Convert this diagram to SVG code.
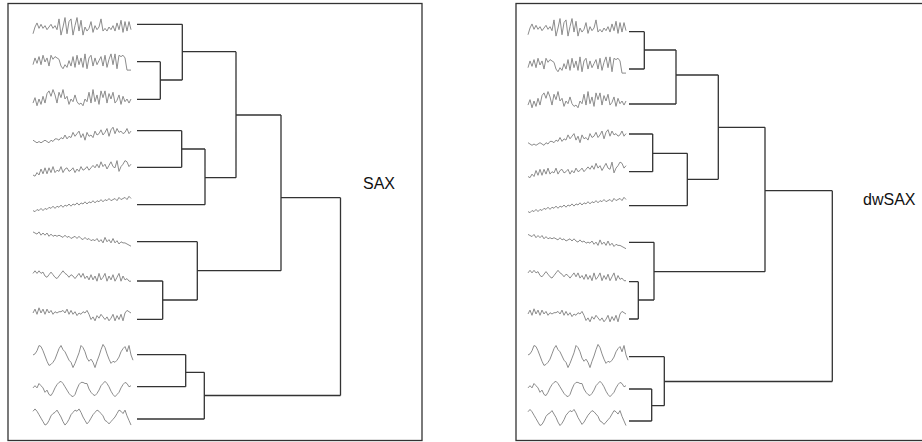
<svg xmlns="http://www.w3.org/2000/svg" xmlns:xlink="http://www.w3.org/1999/xlink" width="922" height="442" viewBox="0 0 922 442">
<style>
.frame{fill:#fff;stroke:#333;stroke-width:1.3}
.wave{fill:none;stroke:#8c8c8c;stroke-width:1;stroke-linejoin:round;vector-effect:non-scaling-stroke}
.link{fill:none;stroke:#333;stroke-width:1.3}
.lbl{font-family:"Liberation Sans",Arial,sans-serif;font-size:16px;fill:#111}
</style>
<defs>
<polyline id="w1" class="wave" points="0,5 2,0 4,-3 6,1 8,-2 10,1 12,-1 14,2 16,0 18,-2 20,1 22,-1 24,2 26,-6 28,6 30,0 32,-7 34,5 36,-4 38,-6 40,6 42,-1 44,-7 46,3 48,-5 50,6 52,0 54,3 56,1 58,-4 60,4 62,-1 64,2 66,0 68,-6 70,3 72,1 74,3 76,0 78,2 80,-1 82,3 84,-3 86,2 88,-5 90,4 92,-4 94,3 96,-4 98,2"/>
<polyline id="w2" class="wave" points="0,2 2,-3 4,1 6,-4 8,2 10,-5 12,0 14,-3 16,3 18,-5 20,-2 22,-4 24,-3 26,-2 28,3 30,5 32,2 34,4 36,-1 38,3 40,-4 42,4 44,-5 46,2 48,-3 50,4 52,-6 54,5 56,-3 58,-5 60,3 62,-3 64,2 66,-1 68,-4 70,3 72,-5 74,4 76,-2 78,-6 80,2 82,-6 84,5 86,-5 88,-4 90,-5 92,-3 94,6 96,6 98,6"/>
<polyline id="w3" class="wave" points="0,3 2,-1 4,5 6,0 8,4 10,-2 12,3 14,-4 16,-6 18,-2 20,-7 22,-3 24,3 26,-5 28,-1 30,-7 32,0 34,-2 36,4 38,0 40,2 42,-3 44,2 46,4 48,3 50,5 52,0 54,2 56,-5 58,3 60,-7 62,2 64,-3 66,4 68,-6 70,-1 72,-6 74,3 76,-4 78,0 80,-5 82,3 84,1 86,-3 88,4 90,-2 92,2 94,0 96,3 98,0"/>
<polyline id="w4" class="wave" points="0,4 2,5 4,6 6,5 8,6 10,5 12,4 14,5 16,6 18,4 20,5 22,3 24,3 26,4 28,2 30,3 32,0 34,3 36,1 38,2 40,-2 42,1 44,-1 46,-3 48,2 50,-1 52,4 54,-2 56,1 58,0 60,2 62,-3 64,0 66,-1 68,-4 70,0 72,-2 74,-5 76,1 78,-4 80,-6 82,-1 84,-5 86,-2 88,-3 90,-1 92,-2 94,-5 96,-1 98,-3"/>
<polyline id="w5" class="wave" points="0,5 2,6 4,3 6,5 8,0 10,4 12,-1 14,4 16,-1 18,3 20,-2 22,3 24,1 26,2 28,-2 30,3 32,0 34,-1 36,2 38,1 40,-1 42,3 44,0 46,2 48,-2 50,1 52,0 54,-2 56,1 58,-1 60,-3 62,-1 64,-4 66,-1 68,-6 70,-2 72,-4 74,0 76,-3 78,-6 80,-2 82,-1 84,-7 86,2 88,-2 90,-4 92,-7 94,-6 96,-2 98,-4"/>
<polyline id="w6" class="wave" points="0,6 2,7 4,5 6,6 8,4 10,6 12,4 14,5 16,3 18,4 20,2 22,4 24,2 26,3 28,1 30,3 32,1 34,2 36,0 38,2 40,0 42,1 44,-1 46,1 48,-1 50,0 52,-2 54,0 56,-2 58,-1 60,-3 62,-1 64,-3 66,-2 68,-4 70,-2 72,-4 74,-3 76,-5 78,-3 80,-4 82,-5 84,-3 86,-6 88,-4 90,-5 92,-6 94,-4 96,-7 98,-5"/>
<polyline id="w7" class="wave" points="0,-6 2,-5 4,-4 6,-6 8,-3 10,-5 12,-3 14,-5 16,-2 18,-4 20,-2 22,-3 24,-2 26,-3 28,-2 30,-1 32,-3 34,-1 36,-2 38,0 40,-1 42,-2 44,0 46,-2 48,0 50,1 52,-1 54,1 56,0 58,2 60,1 62,2 64,0 66,3 68,1 70,4 72,-1 74,3 76,1 78,4 80,0 82,4 84,2 86,5 88,3 90,4 92,4 94,5 96,6 98,7"/>
<polyline id="w8" class="wave" points="0,-2 2,-4 4,-2 6,-4 8,-2 10,-3 12,0 14,1 16,-1 18,-3 20,-1 22,1 24,2 26,0 28,-2 30,-4 32,-2 34,-1 36,1 38,-1 40,0 42,2 44,0 46,-2 48,1 50,-2 52,2 54,0 56,3 58,-1 60,3 62,0 64,4 66,-2 68,3 70,1 72,-2 74,4 76,0 78,3 80,-1 82,4 84,1 86,-2 88,4 90,0 92,3 94,2 96,4 98,4"/>
<polyline id="w9" class="wave" points="0,0 2,-3 4,1 6,-4 8,0 10,-3 12,1 14,-3 16,0 18,-2 20,1 22,-1 24,0 26,-1 28,-1 30,-2 32,0 34,-3 36,1 38,-2 40,1 42,-1 44,2 46,0 48,1 50,-1 52,0 54,-2 56,1 58,5 60,3 62,6 64,2 66,4 68,1 70,3 72,5 74,3 76,6 78,4 80,1 82,6 84,2 86,5 88,1 90,6 92,0 94,-2 96,-1 98,0"/>
<polyline id="w10" class="wave" points="0,-1 2,-2 4,-5 6,-10 8,-9 10,-5 12,0 14,5 16,9 18,8 20,6 22,3 24,-2 26,-7 28,-10 30,-6 32,-4 34,0 36,4 38,6 40,11 42,7 44,2 46,-3 48,-10 50,-8 52,-4 54,2 56,5 58,3 60,6 62,11 64,5 66,0 68,-6 70,-11 72,-8 74,-2 76,3 78,7 80,5 82,6 84,4 86,1 88,-4 90,-7 92,-9 94,-4 96,-10 98,-1 100,4"/>
<polyline id="w11" class="wave" points="0,-1 2,-3 4,-1 6,-5 8,-3 10,-1 12,3 14,1 16,5 18,6 20,3 22,-1 24,-4 26,-6 28,-7 30,-5 32,-2 34,1 36,4 38,6 40,7 42,5 44,0 46,-4 48,-6 50,-6 52,-5 54,-5 56,0 58,3 60,5 62,6 64,4 66,1 68,-3 70,-5 72,-7 74,-5 76,-2 78,2 80,5 82,7 84,5 86,3 88,-1 90,-4 92,-6 94,-5 96,-2 98,-3"/>
<polyline id="w12" class="wave" points="0,-5 2,-7 4,-5 6,-2 8,1 10,4 12,7 14,6 16,3 18,-1 20,-3 22,-4 24,-6 26,-3 28,0 30,4 32,7 34,5 36,2 38,-2 40,-4 42,-6 44,-5 46,-7 48,-4 50,0 52,3 54,6 56,4 58,1 60,-2 62,-4 64,-6 66,-5 68,-3 70,-1 72,3 74,4 76,6 78,4 80,2 82,0 84,-3 86,-6 88,-5 90,-3 92,-6 94,-1 96,3 98,7"/>
</defs>

<g id="panel-sax">
<rect class="frame" x="8" y="3.5" width="414" height="437"/>
</g>
<g id="panel-dwsax">
<rect class="frame" x="516" y="3.5" width="420" height="437"/>
</g>

<g id="sax-leaves">
<g id="sax-leaf1"><use href="#w1" transform="translate(33,27) scale(1,1.35)"/></g>
<g id="sax-leaf2"><use href="#w2" transform="translate(33,62) scale(1,1.35)"/></g>
<g id="sax-leaf3"><use href="#w3" transform="translate(33,99) scale(1,1.35)"/></g>
<g id="sax-leaf4"><use href="#w4" transform="translate(33,135) scale(1,1.3)"/></g>
<g id="sax-leaf5"><use href="#w5" transform="translate(33,169) scale(1,1.2)"/></g>
<g id="sax-leaf6"><use href="#w6" transform="translate(33,204) scale(1,1.1)"/></g>
<g id="sax-leaf7"><use href="#w7" transform="translate(33,238.5) scale(1,1.1)"/></g>
<g id="sax-leaf8"><use href="#w8" transform="translate(33,276) scale(1,1.3)"/></g>
<g id="sax-leaf9"><use href="#w9" transform="translate(33,313) scale(1,1.3)"/></g>
<g id="sax-leaf10"><use href="#w10" transform="translate(33,356) scale(1,1.05)"/></g>
<g id="sax-leaf11"><use href="#w11" transform="translate(33,389) scale(1,1.1)"/></g>
<g id="sax-leaf12"><use href="#w12" transform="translate(33,417) scale(1,1.15)"/></g>
</g>

<g id="dwsax-leaves">
<g id="dwsax-leaf1"><use href="#w1" transform="translate(528,28) scale(1,1.35)"/></g>
<g id="dwsax-leaf2"><use href="#w2" transform="translate(528,65) scale(1,1.35)"/></g>
<g id="dwsax-leaf3"><use href="#w3" transform="translate(528,101) scale(1,1.35)"/></g>
<g id="dwsax-leaf4"><use href="#w4" transform="translate(528,137.5) scale(1,1.3)"/></g>
<g id="dwsax-leaf5"><use href="#w5" transform="translate(528,170.5) scale(1,1.2)"/></g>
<g id="dwsax-leaf6"><use href="#w6" transform="translate(528,205) scale(1,1.1)"/></g>
<g id="dwsax-leaf7"><use href="#w7" transform="translate(528,241) scale(1,1.1)"/></g>
<g id="dwsax-leaf8"><use href="#w8" transform="translate(528,275.5) scale(1,1.3)"/></g>
<g id="dwsax-leaf9"><use href="#w9" transform="translate(528,314) scale(1,1.3)"/></g>
<g id="dwsax-leaf10"><use href="#w10" transform="translate(528,356) scale(1,1.05)"/></g>
<g id="dwsax-leaf11"><use href="#w11" transform="translate(528,389) scale(1,1.1)"/></g>
<g id="dwsax-leaf12"><use href="#w12" transform="translate(528,417.5) scale(1,1.15)"/></g>
</g>

<g id="connectors">
<path class="link" d="M137,24.3H182.3 M137,61.7H160.3 M137,99.3H160.3 M160.3,61.7V99.3 M160.3,80H182.3 M182.3,24.3V80 M182.3,51.7H236
M137,130.7H181.7 M137,167.3H181.7 M181.7,130.7V167.3 M181.7,149H205 M137,204.7H205 M205,149V204.7 M205,177.7H236
M236,51.7V177.7 M236,115H281
M137,241.7H197.3 M137,281H162.7 M137,319.3H162.7 M162.7,281V319.3 M162.7,300H197.3 M197.3,241.7V300 M197.3,270.7H281
M281,115V270.7 M281,197.7H340.5
M137,354.7H185.7 M137,386.7H185.7 M185.7,354.7V386.7 M185.7,372.3H204.3 M137,419H204.3 M204.3,372.3V419 M204.3,395.5H340.5
M340.5,197.7V395.5"/>
<path class="link" d="M629,31.7H644.3 M629,69H644.3 M644.3,31.7V69 M644.3,50H676 M629,104H676 M676,50V104 M676,75H718.3
M629,134H652.7 M629,171.7H652.7 M652.7,134V171.7 M652.7,153.3H687.3 M629,205.7H687.3 M687.3,153.3V205.7 M687.3,179.3H718.3
M718.3,75V179.3 M718.3,127.3H765
M629,242.3H654 M629,281.7H638.3 M629,319H638.3 M638.3,281.7V319 M638.3,300H654 M654,242.3V300 M654,271.7H765
M765,127.3V271.7 M765,190.7H832.3
M629,356.7H664.3 M629,389H651.7 M629,421H651.7 M651.7,389V421 M651.7,405.7H664.3 M664.3,356.7V405.7 M664.3,381.5H832.3
M832.3,190.7V381.5"/>
</g>

<g id="label-sax"><text class="lbl" x="363" y="188.5">SAX</text></g>
<g id="label-dwsax"><text class="lbl" x="863" y="205">dwSAX</text></g>
</svg>
